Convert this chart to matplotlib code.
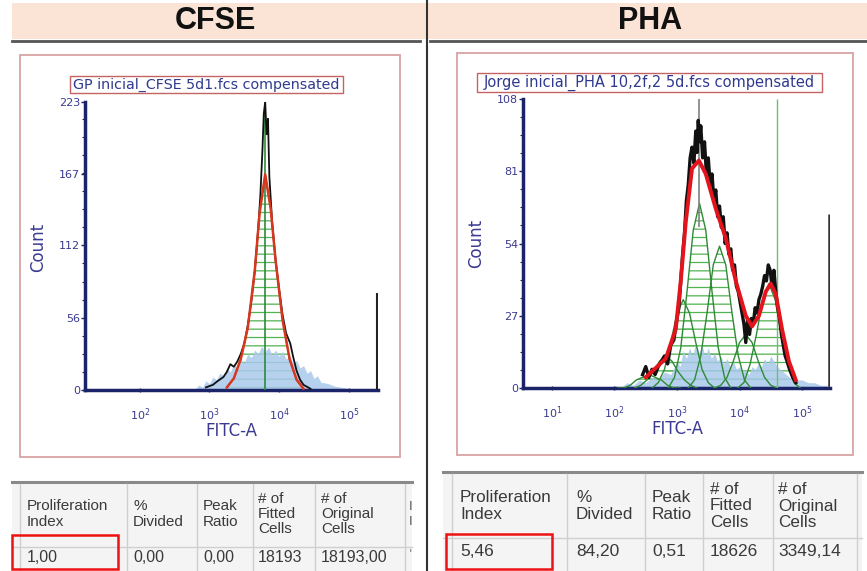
import numpy as np
import matplotlib.pyplot as plt
from matplotlib.patches import Rectangle
from matplotlib.ticker import FixedLocator, AutoMinorLocator, LogLocator, NullFormatter

# ---------------- data ----------------
panel_titles = ["CFSE", "PHA"]
file_names = ["GP inicial_CFSE 5d1.fcs compensated",
              "Jorge inicial_PHA 10,2f,2 5d.fcs compensated"]

# CFSE histogram (x given as log10 of FITC-A)
cfse_yticks = [0, 56, 112, 167, 223]
cfse_black_logx = [2.95, 3.05, 3.12, 3.2, 3.25, 3.3, 3.35, 3.4, 3.45, 3.5, 3.55, 3.6, 3.65, 3.7, 3.73,
                   3.76, 3.78, 3.8, 3.82, 3.84, 3.86, 3.9, 3.95, 4.0, 4.05, 4.1, 4.13, 4.16, 4.2, 4.25,
                   4.3, 4.35, 4.45]
cfse_black_count = [2, 4, 7, 10, 14, 20, 18, 22, 28, 36, 50, 68, 92, 125, 150, 185, 214, 223, 198,
                    210, 165, 130, 100, 78, 58, 44, 40, 36, 26, 15, 8, 4, 1]
cfse_fit_logx = [3.25, 3.35, 3.45, 3.55, 3.65, 3.72, 3.8, 3.88, 3.95, 4.05, 4.15, 4.25, 4.35]
cfse_fit_count = [2, 9, 24, 48, 92, 137, 167, 140, 100, 54, 24, 8, 1]
cfse_blue_logx = [2.8, 2.85, 2.9, 2.95, 3.0, 3.05, 3.1, 3.15, 3.2, 3.25, 3.3, 3.35, 3.4, 3.45, 3.5,
                  3.55, 3.6, 3.65, 3.7, 3.75, 3.8, 3.85, 3.9, 3.95, 4.0, 4.05, 4.1, 4.15, 4.2, 4.25,
                  4.3, 4.35, 4.4, 4.45, 4.5, 4.55, 4.6, 4.7, 4.8, 4.9, 5.0, 5.2]
cfse_blue_count = [1, 4, 2, 7, 5, 10, 8, 13, 11, 17, 14, 20, 17, 24, 21, 28, 25, 31, 28, 34, 30, 33,
                   27, 31, 26, 30, 24, 27, 21, 23, 17, 19, 13, 15, 9, 11, 6, 5, 3, 2, 1, 1]
cfse_gate_logx = 5.40
cfse_gate_count = 75

# PHA histogram
pha_yticks = [0, 27, 54, 81, 108]
pha_black_logx = [2.45, 2.5, 2.55, 2.6, 2.65, 2.7, 2.75, 2.8, 2.85, 2.9, 2.95, 3.0, 3.03, 3.06, 3.09,
                  3.12, 3.15, 3.18, 3.21, 3.24, 3.27, 3.3, 3.32, 3.34, 3.36, 3.38, 3.41, 3.44, 3.47,
                  3.5, 3.53, 3.56, 3.59, 3.62, 3.65, 3.68, 3.71, 3.74, 3.77, 3.8, 3.83, 3.86, 3.89,
                  3.92, 3.95, 3.98, 4.01, 4.04, 4.07, 4.1, 4.13, 4.16, 4.19, 4.22, 4.25, 4.28, 4.31,
                  4.34, 4.37, 4.4, 4.43, 4.46, 4.49, 4.52, 4.55, 4.58, 4.61, 4.64, 4.67, 4.7, 4.73,
                  4.76, 4.8, 4.85, 4.9]
pha_black_count = [5, 8, 4, 7, 5, 8, 10, 12, 9, 16, 18, 26, 30, 40, 50, 58, 70, 76, 86, 90, 84, 96,
                   88, 100, 92, 98, 86, 92, 80, 86, 76, 80, 70, 74, 64, 68, 60, 64, 54, 58, 50, 52,
                   44, 46, 38, 36, 32, 28, 24, 17, 26, 20, 26, 24, 30, 28, 33, 35, 38, 42, 40, 46,
                   44, 38, 44, 36, 30, 26, 20, 16, 12, 10, 7, 4, 2]
pha_fit_logx = [2.5, 2.82, 2.98, 3.06, 3.14, 3.24, 3.35, 3.46, 3.62, 3.78, 3.94, 4.1, 4.2, 4.31,
                4.42, 4.5, 4.58, 4.68, 4.79, 4.9]
pha_fit_count = [4, 11, 22, 40, 62, 82, 85, 80, 67, 56, 40, 27, 23, 27, 36, 39, 35, 22, 10, 3]
# one outline per daughter generation
pha_gen_logx = [[2.05, 2.15, 2.25, 2.35, 2.45, 2.55, 2.65, 2.75, 2.85, 2.95, 3.05],
                [2.32, 2.42, 2.52, 2.62, 2.72, 2.82, 2.92, 3.02, 3.12, 3.22, 3.32],
                [2.6, 2.7, 2.8, 2.9, 3.0, 3.1, 3.2, 3.3, 3.4, 3.5, 3.6],
                [2.86, 2.96, 3.06, 3.16, 3.26, 3.36, 3.46, 3.56, 3.66, 3.76, 3.86],
                [3.18, 3.28, 3.38, 3.48, 3.58, 3.68, 3.78, 3.88, 3.98, 4.08, 4.18],
                [3.6, 3.7, 3.8, 3.9, 4.0, 4.1, 4.2, 4.3, 4.4, 4.5, 4.6],
                [3.97, 4.07, 4.17, 4.27, 4.37, 4.47, 4.57, 4.67, 4.77, 4.87, 4.97]]
pha_gen_count = [[0, 0, 1, 3, 4, 5, 4, 3, 1, 0, 0],
                 [0, 1, 3, 6, 10, 12, 10, 6, 3, 1, 0],
                 [0, 2, 7, 17, 28, 33, 28, 17, 7, 2, 0],
                 [0, 4, 15, 36, 59, 69, 59, 36, 15, 4, 0],
                 [0, 3, 12, 28, 46, 53, 46, 28, 12, 3, 0],
                 [0, 1, 4, 10, 17, 20, 17, 10, 4, 1, 0],
                 [0, 2, 9, 20, 33, 39, 33, 20, 9, 2, 0]]
pha_blue_logx = [2.0, 2.1, 2.2, 2.3, 2.4, 2.5, 2.6, 2.7, 2.8, 2.9, 3.0, 3.05, 3.1, 3.15, 3.2, 3.25,
                 3.3, 3.35, 3.4, 3.45, 3.5, 3.55, 3.6, 3.65, 3.7, 3.75, 3.8, 3.85, 3.9, 3.95, 4.0,
                 4.05, 4.1, 4.15, 4.2, 4.25, 4.3, 4.35, 4.4, 4.45, 4.5, 4.55, 4.6, 4.65, 4.7, 4.8,
                 4.9, 5.0, 5.1, 5.2, 5.3, 5.4]
pha_blue_count = [1, 0, 2, 1, 3, 2, 4, 3, 6, 5, 10, 8, 14, 11, 15, 12, 17, 13, 16, 12, 15, 11, 13,
                  10, 12, 9, 11, 8, 10, 7, 8, 6, 7, 5, 8, 7, 9, 8, 11, 9, 12, 10, 8, 7, 6, 4, 3, 3, 2,
                  2, 1, 1]
pha_spike_logx = 3.35
pha_spike_count = [60, 108]
pha_marker_logx = 4.6
pha_gate_logx = 5.43
pha_gate_count = 65

# ModFit result tables
table_headers = ["Proliferation\nIndex", "%\nDivided", "Peak\nRatio", "# of\nFitted\nCells",
                 "# of\nOriginal\nCells"]
cfse_row = ["1,00", "0,00", "0,00", "18193", "18193,00"]
pha_row = ["5,46", "84,20", "0,51", "18626", "3349,14"]

# ---------------- figure ----------------
W, H = 867, 571
fig = plt.figure(figsize=(W / 100, H / 100), dpi=100)
bg = fig.add_axes([0, 0, 1, 1])
bg.set_xlim(0, W)
bg.set_ylim(H, 0)
bg.axis("off")

navy = "#1b2468"
label_blue = "#3a3a92"
plt.rcParams["hatch.linewidth"] = 0.9


def px_axes(x0, y0, x1, y1):
    return fig.add_axes([x0 / W, 1 - y1 / H, (x1 - x0) / W, (y1 - y0) / H])


# header band and dividers
bg.add_patch(Rectangle((12, 3), W - 12, 36, facecolor="#fbe4d6", edgecolor="none"))
bg.plot([12, 420], [40.5, 40.5], color="#555555", lw=2)
bg.plot([430, W], [40.5, 40.5], color="#555555", lw=2)
bg.plot([427, 427], [0, H], color="#333333", lw=1.5)
bg.text(215, 21, panel_titles[0], ha="center", va="center", fontsize=22, fontweight="bold",
        family="Liberation Sans", color="#111111")
bg.text(650, 21, panel_titles[1], ha="center", va="center", fontsize=22, fontweight="bold",
        family="Liberation Sans", color="#111111")

# panel frames and file name boxes
bg.add_patch(Rectangle((20, 55), 380, 402, facecolor="none", edgecolor="#d9a3a3", lw=1.3))
bg.add_patch(Rectangle((457, 53), 396, 402, facecolor="none", edgecolor="#d9a3a3", lw=1.3))
bg.add_patch(Rectangle((70, 76), 273, 17, facecolor="none", edgecolor="#c56262", lw=1))
bg.add_patch(Rectangle((477, 73), 345, 19, facecolor="none", edgecolor="#c56262", lw=1))
bg.text(206, 84.5, file_names[0], ha="center", va="center", fontsize=10.3, color="#2f3a8f")
bg.text(649, 82.5, file_names[1], ha="center", va="center", fontsize=10.5, color="#2f3a8f")

# axis titles
for cx, cy in [(38, 247), (476, 243)]:
    bg.text(cx, cy, "Count", rotation=90, ha="center", va="center", fontsize=12, color=label_blue)
for cx, cy in [(231, 431), (677, 429)]:
    bg.text(cx, cy, "FITC-A", ha="center", va="center", fontsize=12, color=label_blue)


def style_hist(ax, xlim, yticks):
    ax.set_xscale("log")
    ax.set_xlim(*xlim)
    ax.set_ylim(0, yticks[-1])
    ax.patch.set_alpha(0)
    for s in ["top", "right"]:
        ax.spines[s].set_visible(False)
    for s in ["left", "bottom"]:
        ax.spines[s].set_color(navy)
        ax.spines[s].set_linewidth(2.5)
    ax.yaxis.set_major_locator(FixedLocator(yticks))
    ax.yaxis.set_minor_locator(AutoMinorLocator(4))
    ax.xaxis.set_major_locator(LogLocator(base=10, numticks=10))
    ax.xaxis.set_minor_locator(LogLocator(base=10, subs=np.arange(2, 10), numticks=10))
    ax.xaxis.set_minor_formatter(NullFormatter())
    ax.tick_params(axis="y", which="major", length=3, width=1, color=navy, pad=0.5,
                   labelsize=8, labelcolor=label_blue)
    ax.tick_params(axis="y", which="minor", length=2, width=0.8, color=navy)
    ax.tick_params(axis="x", which="major", length=3, width=1, color=navy, pad=10,
                   labelsize=8, labelcolor=label_blue, direction="inout")
    ax.tick_params(axis="x", which="minor", length=2, width=0.7, color=navy, direction="inout")


def lin(v):
    return 10 ** np.array(v, dtype=float)


# ---- CFSE histogram ----
ax1 = px_axes(85, 102, 378, 390)
style_hist(ax1, (16.4, 262144), cfse_yticks)
ax1.fill_between(lin(cfse_fit_logx), cfse_fit_count, facecolor="none", edgecolor="#52b352",
                 hatch="--", lw=0, zorder=2)
ax1.fill_between(lin(cfse_blue_logx), cfse_blue_count, color="#a9c9ec", lw=0, alpha=0.85, zorder=2.5)
ax1.plot(lin(cfse_fit_logx), cfse_fit_count, color="#2f8a35", lw=1, zorder=3)
ax1.vlines(10 ** 3.8, 0, 223, color="#2e8b3a", lw=1.2, zorder=3)
ax1.plot(lin(cfse_black_logx), cfse_black_count, color="#111111", lw=1.3, zorder=4)
ax1.plot(lin(cfse_fit_logx), cfse_fit_count, color="#d8361e", lw=1.8, zorder=5)
ax1.vlines(10 ** cfse_gate_logx, 0, cfse_gate_count, color="#222222", lw=1.5, zorder=5)

# ---- PHA histogram ----
ax2 = px_axes(523, 99, 830, 388)
style_hist(ax2, (3.44, 280000), pha_yticks)
for gx, gy in zip(pha_gen_logx, pha_gen_count):
    ax2.fill_between(lin(gx), gy, facecolor="none", edgecolor="#52b352", hatch="--", lw=0, zorder=2)
ax2.fill_between(lin(pha_blue_logx), pha_blue_count, color="#a9c9ec", lw=0, alpha=0.85, zorder=2.5)
for gx, gy in zip(pha_gen_logx, pha_gen_count):
    ax2.plot(lin(gx), gy, color="#2f8a35", lw=1, zorder=3)
ax2.vlines(10 ** pha_marker_logx, 0, 108, color="#6fbf6f", lw=1, zorder=3)
ax2.vlines(10 ** pha_spike_logx, *pha_spike_count, color="#808080", lw=1.2, zorder=3)
ax2.plot(lin(pha_black_logx), pha_black_count, color="#111111", lw=2.4, zorder=4)
ax2.plot(lin(pha_fit_logx), pha_fit_count, color="#e3141c", lw=2.8, zorder=5)
ax2.vlines(10 ** pha_gate_logx, 0, pha_gate_count, color="#333333", lw=1.8, zorder=5)


# ---- tables ----
def draw_table(x0, x1, ytop, seps, text_x, head_y, val_y, row_y, row, fs, vfs, red_box):
    bg.add_patch(Rectangle((x0, ytop), x1 - x0, H - ytop, facecolor="#f4f4f4", edgecolor="none"))
    bg.plot([x0, x1], [ytop, ytop], color="#8a8a8a", lw=2.2)
    for sx in seps:
        bg.plot([sx, sx], [ytop + 2, H], color="#cfcfcf", lw=1)
    bg.plot([x0, x1], [row_y, row_y], color="#d0d0d0", lw=1)
    for tx, head, val in zip(text_x, table_headers, row):
        bg.text(tx, head_y, head, ha="left", va="center", fontsize=fs, family="Liberation Sans",
                color="#3a3a3a", linespacing=1.12)
        bg.text(tx, val_y, val, ha="left", va="center", fontsize=vfs,
                family="Liberation Sans", color="#3a3a3a")
    bx0, by0, bx1, by1 = red_box
    bg.add_patch(Rectangle((bx0, by0), bx1 - bx0, by1 - by0, facecolor="none",
                           edgecolor="#ee1111", lw=1.8, zorder=6))


draw_table(12, 412, 482, [20, 127, 197, 253, 315, 405], [27, 133, 203, 258, 321],
           514, 557, 547, cfse_row, 11, 11.5, (12, 535, 118, 569))
bg.text(409, 514, "I\nI", ha="left", va="center", fontsize=9, color="#555555", linespacing=1.2)
bg.text(409, 555, "'", ha="left", va="center", fontsize=9, color="#777777")

draw_table(443, 862, 472, [452, 567, 645, 703, 773, 857], [460, 576, 652, 710, 778],
           506, 552, 538, pha_row, 12.3, 12.5, (446, 534, 552, 569))

fig.savefig("out.png", dpi=100)
